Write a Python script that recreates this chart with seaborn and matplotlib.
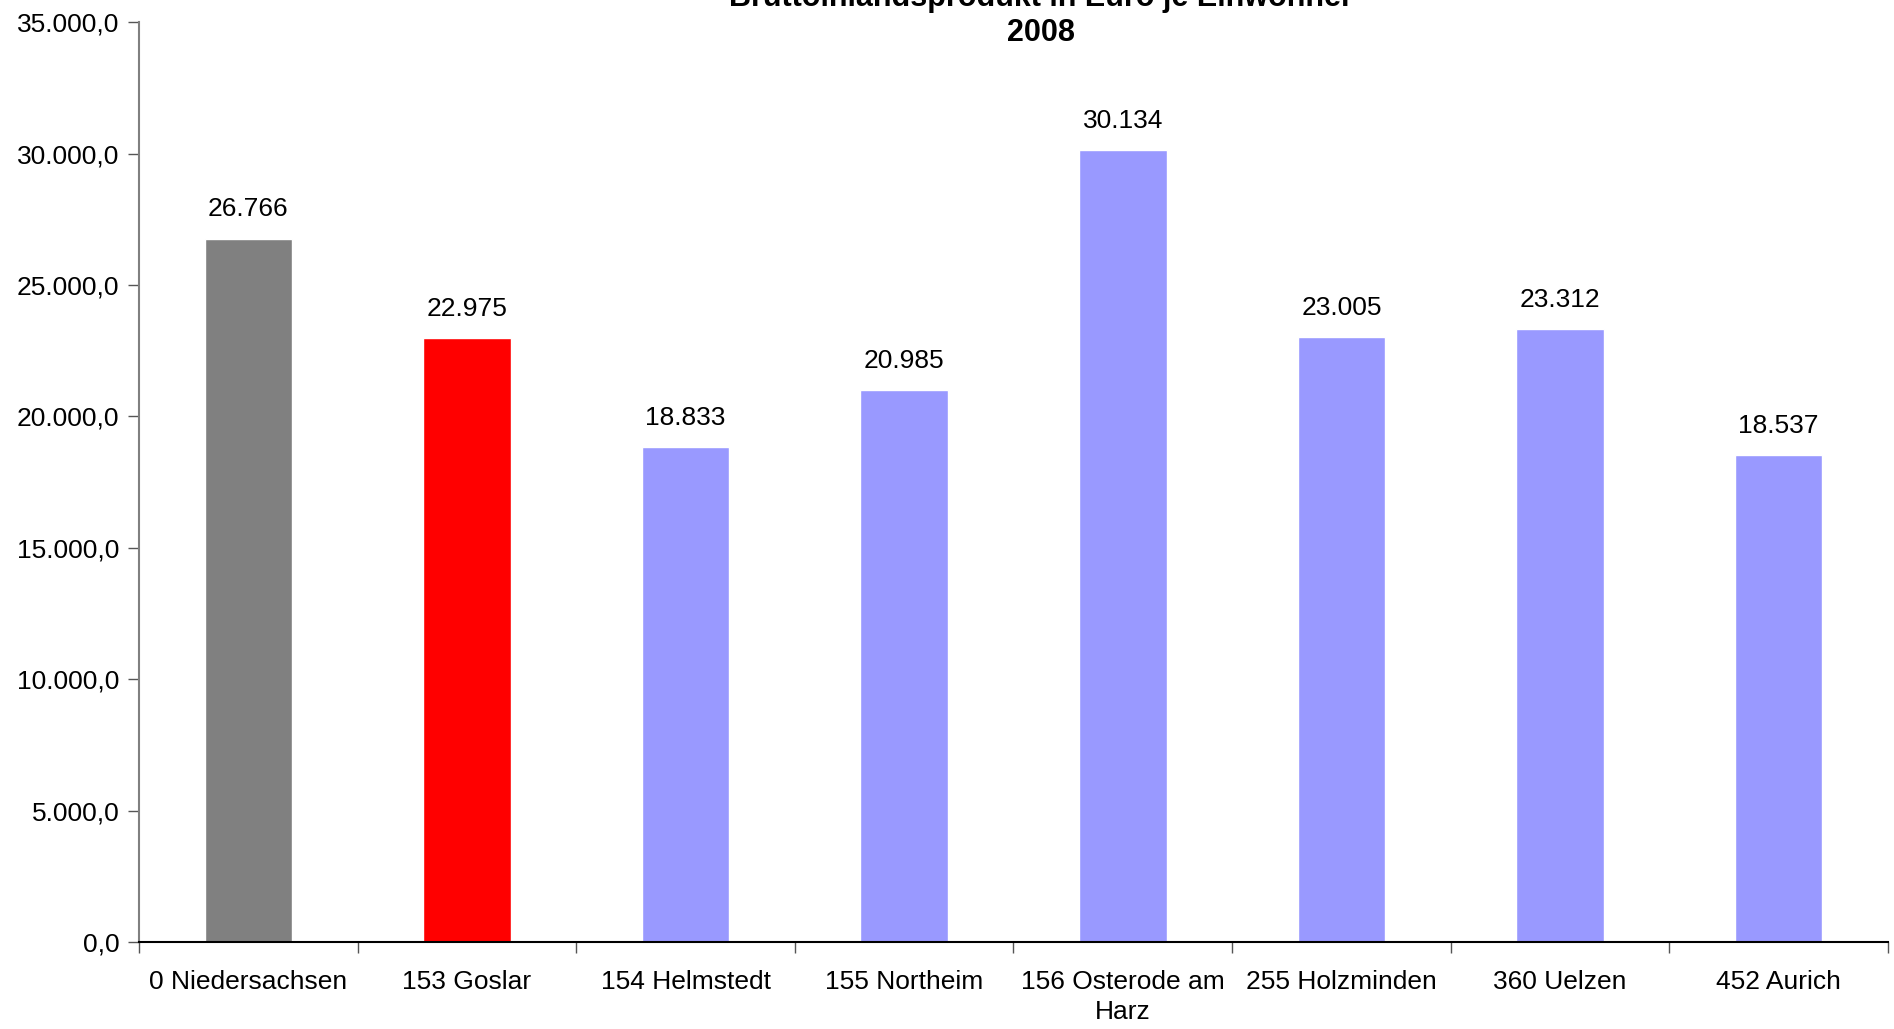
import matplotlib
matplotlib.use("Agg")
import matplotlib.pyplot as plt
import seaborn as sns
import pandas as pd
from matplotlib.ticker import FuncFormatter, MultipleLocator

categories = ["0 Niedersachsen", "153 Goslar", "154 Helmstedt", "155 Northeim",
              "156 Osterode am\nHarz", "255 Holzminden", "360 Uelzen", "452 Aurich"]
values = [26766, 22975, 18833, 20985, 30134, 23005, 23312, 18537]
bar_colors = ["#808080", "#ff0000", "#9999ff", "#9999ff", "#9999ff", "#9999ff", "#9999ff", "#9999ff"]
title_line1 = "Bruttoinlandsprodukt in Euro je Einwohner"
title_line2 = "2008"

sns.set_theme(style="white")
plt.rcParams['font.family'] = ['Liberation Sans', 'DejaVu Sans']
plt.rcParams['text.color'] = 'black'
plt.rcParams['xtick.color'] = 'black'
plt.rcParams['ytick.color'] = 'black'

df = pd.DataFrame({"cat": categories, "val": values})

fig = plt.figure(figsize=(18.94, 10.29), dpi=100)
ax = fig.add_axes([0.0734, 0.0845, 0.9234, 0.894])
sns.barplot(data=df, x="cat", y="val", hue="cat", palette=bar_colors, legend=False,
            width=0.4, ax=ax, saturation=1)

ax.set_ylim(0, 35000)
ax.set_xlim(-0.5, len(categories) - 0.5)
ax.yaxis.set_major_locator(MultipleLocator(5000))

def de_fmt(v, pos=None):
    s = f"{v:,.1f}"
    return s.replace(",", "X").replace(".", ",").replace("X", ".")

ax.yaxis.set_major_formatter(FuncFormatter(de_fmt))
ax.set_xlabel("")
ax.set_ylabel("")

for sp in ["top", "right"]:
    ax.spines[sp].set_visible(False)
ax.spines["left"].set_color("#808080")
ax.spines["left"].set_linewidth(1.5)
ax.spines["bottom"].set_color("black")
ax.spines["bottom"].set_linewidth(1.5)

# ticks at category boundaries on x
ax.set_xticks(range(len(categories)))
ax.set_xticklabels(categories, fontsize=19, linespacing=1.35)
ax.tick_params(axis="x", which="major", length=0, pad=20, labelcolor="black")
ax.set_xticks([i - 0.5 for i in range(len(categories) + 1)], minor=True)
ax.tick_params(axis="x", which="minor", length=8, width=1, color="#555555", direction="out", bottom=True)
ax.tick_params(axis="y", length=8, width=1, color="#555555", direction="out", left=True,
               labelsize=19, pad=6, labelcolor="black")

for i, v in enumerate(values):
    ax.text(i, v + 650, f"{v:,}".replace(",", "."), ha="center", va="bottom", fontsize=19,
            color="black")

fig.text(1041 / 1894, 1 + 2 / 1029, title_line1, ha="center", va="center",
         fontsize=22, fontweight="bold", color="black")
fig.text(1041 / 1894, 1 - 33 / 1029, title_line2, ha="center", va="center",
         fontsize=22, fontweight="bold", color="black")

fig.savefig("out.png", dpi=100)
